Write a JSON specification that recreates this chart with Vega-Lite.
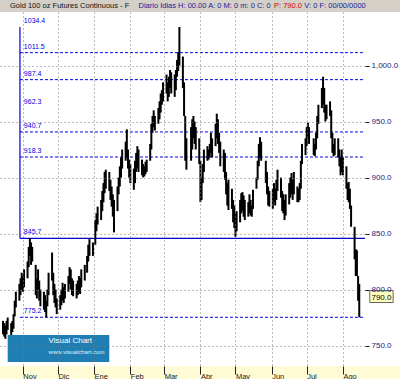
{
  "$schema": "https://vega.github.io/schema/vega-lite/v6.json",
  "width": 365,
  "height": 354,
  "autosize": {"type": "none"},
  "padding": {"left": 0, "top": 12, "right": 35, "bottom": 13},
  "background": "white",
  "config": {
    "view": {"stroke": null, "fill": "white"},
    "font": "Liberation Sans",
    "axisX": {"grid": true, "gridDash": [1, 3], "gridColor": "#777777", "gridWidth": 1, "gridOpacity": 1, "domain": false, "tickSize": 8, "tickColor": "#222222", "labelAlign": "left", "labelBaseline": "top", "labelPadding": -2, "labelDx": 2, "labelFontSize": 7.5, "labelColor": "#222222"},
    "axisY": {"grid": true, "gridDash": [1, 3], "gridColor": "#777777", "gridWidth": 1, "gridOpacity": 1, "domain": false, "tickSize": 4, "tickColor": "#222222", "labelPadding": 2, "labelFontSize": 8, "labelColor": "#1c1c7c"}
  },
  "datasets": {
    "px": [
      {"d":"2007-10-15","h":772,"l":760},{"d":"2007-10-16","h":770,"l":758},{"d":"2007-10-17","h":768,"l":756},{"d":"2007-10-18","h":772,"l":760},{"d":"2007-10-19","h":775,"l":764},
      {"d":"2007-10-22","h":770,"l":758},{"d":"2007-10-23","h":772,"l":762},{"d":"2007-10-24","h":778,"l":765},{"d":"2007-10-25","h":790,"l":776},{"d":"2007-10-26","h":798,"l":784},
      {"d":"2007-10-29","h":805,"l":790},{"d":"2007-10-30","h":810,"l":795},{"d":"2007-10-31","h":815,"l":800},{"d":"2007-11-01","h":812,"l":798},{"d":"2007-11-02","h":818,"l":802},
      {"d":"2007-11-05","h":825,"l":810},{"d":"2007-11-06","h":838,"l":820},{"d":"2007-11-07","h":845.7,"l":830},{"d":"2007-11-08","h":842,"l":822},{"d":"2007-11-09","h":838,"l":825},
      {"d":"2007-11-12","h":822,"l":795},{"d":"2007-11-13","h":810,"l":792},{"d":"2007-11-14","h":818,"l":800},{"d":"2007-11-15","h":808,"l":790},{"d":"2007-11-16","h":800,"l":785},
      {"d":"2007-11-19","h":798,"l":782},{"d":"2007-11-20","h":795,"l":780},{"d":"2007-11-21","h":790,"l":775.2},{"d":"2007-11-22","h":800,"l":785},{"d":"2007-11-23","h":815,"l":795},
      {"d":"2007-11-26","h":833,"l":808},{"d":"2007-11-27","h":815,"l":795},{"d":"2007-11-28","h":805,"l":788},{"d":"2007-11-29","h":800,"l":784},{"d":"2007-11-30","h":792,"l":778},
      {"d":"2007-12-03","h":795,"l":782},{"d":"2007-12-04","h":800,"l":786},{"d":"2007-12-05","h":806,"l":790},{"d":"2007-12-06","h":802,"l":788},{"d":"2007-12-07","h":805,"l":792},
      {"d":"2007-12-10","h":812,"l":798},{"d":"2007-12-11","h":820,"l":805},{"d":"2007-12-12","h":818,"l":800},{"d":"2007-12-13","h":810,"l":795},{"d":"2007-12-14","h":808,"l":794},
      {"d":"2007-12-17","h":805,"l":792},{"d":"2007-12-18","h":808,"l":795},{"d":"2007-12-19","h":812,"l":798},{"d":"2007-12-20","h":810,"l":796},{"d":"2007-12-21","h":818,"l":802},
      {"d":"2007-12-24","h":822,"l":808},{"d":"2007-12-26","h":830,"l":815},{"d":"2007-12-27","h":840,"l":825},{"d":"2007-12-28","h":845,"l":830},{"d":"2007-12-31","h":842,"l":830},
      {"d":"2008-01-02","h":862,"l":840},{"d":"2008-01-03","h":868,"l":852},{"d":"2008-01-04","h":874,"l":858},
      {"d":"2008-01-07","h":880,"l":862},{"d":"2008-01-08","h":888,"l":870},{"d":"2008-01-09","h":895,"l":878},{"d":"2008-01-10","h":905,"l":886},{"d":"2008-01-11","h":907,"l":890},
      {"d":"2008-01-14","h":905,"l":888},{"d":"2008-01-15","h":898,"l":880},{"d":"2008-01-16","h":892,"l":874},{"d":"2008-01-17","h":885,"l":865},{"d":"2008-01-18","h":880,"l":851},
      {"d":"2008-01-21","h":892,"l":870},{"d":"2008-01-22","h":900,"l":885},{"d":"2008-01-23","h":910,"l":892},{"d":"2008-01-24","h":918,"l":900},{"d":"2008-01-25","h":925,"l":908},
      {"d":"2008-01-28","h":932,"l":915},{"d":"2008-01-29","h":943,"l":918},{"d":"2008-01-30","h":925,"l":908},{"d":"2008-01-31","h":916,"l":900},{"d":"2008-02-01","h":912,"l":895},
      {"d":"2008-02-04","h":908,"l":889},{"d":"2008-02-05","h":915,"l":895},{"d":"2008-02-06","h":922,"l":905},{"d":"2008-02-07","h":928,"l":908},{"d":"2008-02-08","h":925,"l":905},
      {"d":"2008-02-11","h":916,"l":902},{"d":"2008-02-12","h":912,"l":900},{"d":"2008-02-13","h":910,"l":901},{"d":"2008-02-14","h":914,"l":903},{"d":"2008-02-15","h":916,"l":905},
      {"d":"2008-02-18","h":930,"l":915},{"d":"2008-02-19","h":948,"l":925},{"d":"2008-02-20","h":955,"l":940},{"d":"2008-02-21","h":960,"l":945},{"d":"2008-02-22","h":955,"l":942},
      {"d":"2008-02-25","h":962,"l":948},{"d":"2008-02-26","h":968,"l":952},{"d":"2008-02-27","h":975,"l":958},{"d":"2008-02-28","h":978,"l":965},{"d":"2008-02-29","h":985,"l":968},
      {"d":"2008-03-03","h":992,"l":975},{"d":"2008-03-04","h":985,"l":968},{"d":"2008-03-05","h":990,"l":972},{"d":"2008-03-06","h":996,"l":980},{"d":"2008-03-07","h":994,"l":975},
      {"d":"2008-03-10","h":992,"l":972},{"d":"2008-03-11","h":996,"l":978},{"d":"2008-03-12","h":1005,"l":990},{"d":"2008-03-13","h":1012,"l":995},{"d":"2008-03-14","h":1034.4,"l":1000},
      {"d":"2008-03-17","h":1008,"l":980},{"d":"2008-03-18","h":985,"l":955},{"d":"2008-03-19","h":955,"l":915},{"d":"2008-03-20","h":935,"l":907},
      {"d":"2008-03-24","h":945,"l":915},{"d":"2008-03-25","h":952,"l":925},{"d":"2008-03-26","h":955,"l":935},{"d":"2008-03-27","h":950,"l":930},{"d":"2008-03-28","h":945,"l":925},
      {"d":"2008-03-31","h":935,"l":912},{"d":"2008-04-01","h":915,"l":878},{"d":"2008-04-02","h":900,"l":880},{"d":"2008-04-03","h":912,"l":895},{"d":"2008-04-04","h":925,"l":905},
      {"d":"2008-04-07","h":928,"l":915},{"d":"2008-04-08","h":925,"l":916},{"d":"2008-04-09","h":930,"l":918},{"d":"2008-04-10","h":940,"l":922},{"d":"2008-04-11","h":935,"l":918},
      {"d":"2008-04-14","h":948,"l":928},{"d":"2008-04-15","h":957,"l":935},{"d":"2008-04-16","h":952,"l":930},{"d":"2008-04-17","h":940,"l":922},{"d":"2008-04-18","h":932,"l":910},
      {"d":"2008-04-21","h":925,"l":905},{"d":"2008-04-22","h":922,"l":898},{"d":"2008-04-23","h":905,"l":885},{"d":"2008-04-24","h":895,"l":875},{"d":"2008-04-25","h":898,"l":871},
      {"d":"2008-04-28","h":890,"l":872},{"d":"2008-04-29","h":880,"l":860},{"d":"2008-04-30","h":875,"l":855},{"d":"2008-05-01","h":868,"l":847},{"d":"2008-05-02","h":870,"l":852},
      {"d":"2008-05-05","h":880,"l":860},{"d":"2008-05-06","h":886,"l":868},{"d":"2008-05-07","h":887,"l":870},{"d":"2008-05-08","h":884,"l":865},{"d":"2008-05-09","h":880,"l":862},
      {"d":"2008-05-12","h":878,"l":865},{"d":"2008-05-13","h":885,"l":868},{"d":"2008-05-14","h":880,"l":866},{"d":"2008-05-15","h":875,"l":865},{"d":"2008-05-16","h":889,"l":872},
      {"d":"2008-05-19","h":900,"l":890},{"d":"2008-05-20","h":915,"l":898},{"d":"2008-05-21","h":930,"l":910},{"d":"2008-05-22","h":936,"l":918},{"d":"2008-05-23","h":932,"l":915},
      {"d":"2008-05-27","h":915,"l":895},{"d":"2008-05-28","h":905,"l":885},{"d":"2008-05-29","h":892,"l":875},{"d":"2008-05-30","h":888,"l":874},
      {"d":"2008-06-02","h":890,"l":872},{"d":"2008-06-03","h":895,"l":878},{"d":"2008-06-04","h":890,"l":875},{"d":"2008-06-05","h":898,"l":880},{"d":"2008-06-06","h":907,"l":888},
      {"d":"2008-06-09","h":900,"l":882},{"d":"2008-06-10","h":888,"l":870},{"d":"2008-06-11","h":885,"l":868},{"d":"2008-06-12","h":880,"l":862},{"d":"2008-06-13","h":885,"l":866},
      {"d":"2008-06-16","h":895,"l":876},{"d":"2008-06-17","h":900,"l":882},{"d":"2008-06-18","h":904,"l":885},{"d":"2008-06-19","h":898,"l":880},{"d":"2008-06-20","h":905,"l":885},
      {"d":"2008-06-23","h":892,"l":878},{"d":"2008-06-24","h":890,"l":878},{"d":"2008-06-25","h":895,"l":880},{"d":"2008-06-26","h":915,"l":890},{"d":"2008-06-27","h":930,"l":912},
      {"d":"2008-06-30","h":935,"l":920},{"d":"2008-07-01","h":945,"l":928},{"d":"2008-07-02","h":949,"l":935},{"d":"2008-07-03","h":945,"l":930},
      {"d":"2008-07-07","h":935,"l":920},{"d":"2008-07-08","h":930,"l":919},{"d":"2008-07-09","h":940,"l":925},{"d":"2008-07-10","h":955,"l":935},{"d":"2008-07-11","h":965,"l":948},
      {"d":"2008-07-14","h":980,"l":962},{"d":"2008-07-15","h":990,"l":965},{"d":"2008-07-16","h":980,"l":958},{"d":"2008-07-17","h":965,"l":950},{"d":"2008-07-18","h":965,"l":952},
      {"d":"2008-07-21","h":968,"l":955},{"d":"2008-07-22","h":960,"l":935},{"d":"2008-07-23","h":940,"l":922},{"d":"2008-07-24","h":930,"l":919},{"d":"2008-07-25","h":935,"l":920},
      {"d":"2008-07-28","h":935,"l":918},{"d":"2008-07-29","h":925,"l":910},{"d":"2008-07-30","h":918,"l":902},{"d":"2008-07-31","h":925,"l":905},{"d":"2008-08-01","h":918,"l":902},
      {"d":"2008-08-04","h":910,"l":890},{"d":"2008-08-05","h":895,"l":880},{"d":"2008-08-06","h":896,"l":878},{"d":"2008-08-07","h":890,"l":872},{"d":"2008-08-08","h":875,"l":856},
      {"d":"2008-08-11","h":856,"l":827},{"d":"2008-08-12","h":836,"l":812},{"d":"2008-08-13","h":835,"l":812},{"d":"2008-08-14","h":812,"l":790},{"d":"2008-08-15","h":805,"l":775.2}
    ],
    "fib": [
      {"level":1034.4,"label":"1034.4"},{"level":1011.5,"label":"1011.5"},{"level":987.4,"label":"987.4"},{"level":962.3,"label":"962.3"},
      {"level":940.7,"label":"940.7"},{"level":918.3,"label":"918.3"},{"level":845.7,"label":"845.7"},{"level":775.2,"label":"775.2"}
    ],
    "last": [{"price":790,"label":"790.0"}],
    "logo": [{"name":"Visual Chart","site":"www.visualchart.com"}],
    "hdr": [{"name":"Gold 100 oz Futures Continuous - F","mid":"Diario  Idias  H: 00.00  A: 0  M: 0  m: 0  C: 0","p":"P: 790.0","rest":"V: 0  F: 00/00/0000"}]
  },
  "layer": [
    {
      "data": {"values": [{}]},
      "mark": {"type": "rect", "color": "#d4d0c8", "clip": false},
      "encoding": {
        "x": {"datum": {"year":2007,"month":9,"date":20,"utc":true}, "type": "temporal"},
        "x2": {"datum": {"year":2008,"month":10,"date":1,"utc":true}},
        "y": {"datum": 1047.8, "type": "quantitative"},
        "y2": {"datum": 1062}
      }
    },
    {
      "data": {"values": [{}]},
      "mark": {"type": "rect", "color": "#fffbd4", "clip": false},
      "encoding": {
        "x": {"datum": {"year":2007,"month":9,"date":20,"utc":true}, "type": "temporal"},
        "x2": {"datum": {"year":2008,"month":10,"date":1,"utc":true}},
        "y": {"datum": 731.7, "type": "quantitative"},
        "y2": {"datum": 716}
      }
    },
    {
      "data": {"name": "hdr"},
      "mark": {"type": "text", "color": "#111111", "fontSize": 7.5, "align": "left", "baseline": "middle", "clip": false},
      "encoding": {
        "x": {"datum": {"year":2007,"month":10,"date":21,"utc":true}, "type": "temporal"},
        "y": {"datum": 1053.2, "type": "quantitative"},
        "text": {"field": "name"}
      }
    },
    {
      "data": {"name": "hdr"},
      "mark": {"type": "text", "color": "#1a1a9a", "fontSize": 7.5, "align": "left", "baseline": "middle", "clip": false},
      "encoding": {
        "x": {"datum": {"year":2008,"month":2,"date":8,"utc":true}, "type": "temporal"},
        "y": {"datum": 1053.2, "type": "quantitative"},
        "text": {"field": "mid"}
      }
    },
    {
      "data": {"name": "hdr"},
      "mark": {"type": "text", "color": "#d40000", "fontSize": 7.5, "align": "left", "baseline": "middle", "clip": false},
      "encoding": {
        "x": {"datum": {"year":2008,"month":6,"date":3,"utc":true}, "type": "temporal"},
        "y": {"datum": 1053.2, "type": "quantitative"},
        "text": {"field": "p"}
      }
    },
    {
      "data": {"name": "hdr"},
      "mark": {"type": "text", "color": "#1a1a9a", "fontSize": 7.5, "align": "left", "baseline": "middle", "clip": false},
      "encoding": {
        "x": {"datum": {"year":2008,"month":6,"date":29,"utc":true}, "type": "temporal"},
        "y": {"datum": 1053.2, "type": "quantitative"},
        "text": {"field": "rest"}
      }
    },
    {
      "data": {"name": "fib"},
      "transform": [{"filter": "indexof([1011.5, 987.4, 940.7, 918.3, 775.2], datum.level) >= 0"}],
      "mark": {"type": "rule", "color": "#0000e6", "strokeDash": [3, 2], "strokeWidth": 1},
      "encoding": {
        "y": {"field": "level", "type": "quantitative"},
        "x": {"datum": {"year":2007,"month":10,"date":29,"hours":12,"utc":true}, "type": "temporal"},
        "x2": {"datum": {"year":2008,"month":8,"date":19,"hours":22,"utc":true}}
      }
    },
    {
      "data": {"name": "fib"},
      "transform": [{"filter": "datum.level == 845.7"}],
      "mark": {"type": "rule", "color": "#0000cc", "strokeWidth": 1.2},
      "encoding": {
        "y": {"field": "level", "type": "quantitative"},
        "x": {"datum": {"year":2007,"month":10,"date":29,"hours":12,"utc":true}, "type": "temporal"},
        "x2": {"datum": {"year":2008,"month":8,"date":19,"hours":22,"utc":true}}
      }
    },
    {
      "data": {"values": [{}]},
      "mark": {"type": "rule", "color": "#0000cc", "strokeWidth": 1.2},
      "encoding": {
        "x": {"datum": {"year":2007,"month":10,"date":29,"hours":12,"utc":true}, "type": "temporal"},
        "y": {"datum": 845.7, "type": "quantitative"},
        "y2": {"datum": 1034.4}
      }
    },
    {
      "data": {"name": "px"},
      "mark": {"type": "rule", "color": "#000000", "strokeWidth": 2},
      "encoding": {
        "x": {
          "field": "d", "type": "temporal",
          "scale": {"type": "utc", "domain": [{"year":2007,"month":10,"date":12,"hours":10,"utc":true}, {"year":2008,"month":8,"date":19,"hours":22,"utc":true}]},
          "axis": {
            "title": null,
            "zindex": 2,
            "values": [
              {"year":2007,"month":11,"date":1,"utc":true},{"year":2007,"month":12,"date":1,"utc":true},{"year":2008,"month":1,"date":1,"utc":true},
              {"year":2008,"month":2,"date":1,"utc":true},{"year":2008,"month":3,"date":1,"utc":true},{"year":2008,"month":4,"date":1,"utc":true},
              {"year":2008,"month":5,"date":1,"utc":true},{"year":2008,"month":6,"date":1,"utc":true},{"year":2008,"month":7,"date":1,"utc":true},
              {"year":2008,"month":8,"date":1,"utc":true}
            ],
            "labelExpr": "['Ene','Feb','Mar','Abr','May','Jun','Jul','Ago','Sep','Oct','Nov','Dic'][utcmonth(datum.value)]"
          }
        },
        "y": {
          "field": "h", "type": "quantitative",
          "scale": {"domain": [731.7, 1047.8], "nice": false, "zero": false},
          "axis": {"title": null, "zindex": 2, "orient": "right", "values": [750, 800, 850, 900, 950, 1000], "format": ",.1f"}
        },
        "y2": {"field": "l"}
      }
    },
    {
      "data": {"name": "fib"},
      "mark": {"type": "text", "color": "#0000e6", "fontSize": 7, "align": "left", "baseline": "bottom", "dy": -3},
      "encoding": {
        "y": {"field": "level", "type": "quantitative"},
        "x": {"datum": {"year":2007,"month":11,"date":1,"hours":20,"utc":true}, "type": "temporal"},
        "text": {"field": "label"}
      }
    },
    {
      "data": {"name": "logo"},
      "mark": {"type": "rect", "color": "#1f7fb4"},
      "encoding": {
        "x": {"datum": {"year":2007,"month":10,"date":19,"utc":true}, "type": "temporal"},
        "x2": {"datum": {"year":2008,"month":1,"date":14,"utc":true}},
        "y": {"datum": 735.3, "type": "quantitative"},
        "y2": {"datum": 759.4}
      }
    },
    {
      "data": {"name": "logo"},
      "mark": {"type": "text", "color": "#ffffff", "fontSize": 8, "align": "left", "baseline": "middle"},
      "encoding": {
        "x": {"datum": {"year":2007,"month":11,"date":23,"utc":true}, "type": "temporal"},
        "y": {"datum": 753.8, "type": "quantitative"},
        "text": {"field": "name"}
      }
    },
    {
      "data": {"name": "logo"},
      "mark": {"type": "text", "color": "#dff0ff", "fontSize": 6, "align": "left", "baseline": "middle"},
      "encoding": {
        "x": {"datum": {"year":2007,"month":11,"date":23,"utc":true}, "type": "temporal"},
        "y": {"datum": 744.6, "type": "quantitative"},
        "text": {"field": "site"}
      }
    },
    {
      "data": {"name": "last"},
      "mark": {"type": "rect", "color": "#ffffc0", "stroke": "#000000", "strokeWidth": 0.6, "clip": false},
      "encoding": {
        "x": {"datum": {"year":2008,"month":8,"date":24,"utc":true}, "type": "temporal"},
        "x2": {"datum": {"year":2008,"month":9,"date":13,"utc":true}},
        "y": {"datum": 788.4, "type": "quantitative"},
        "y2": {"datum": 799.1}
      }
    },
    {
      "data": {"name": "last"},
      "mark": {"type": "text", "color": "#000000", "fontSize": 8, "align": "center", "baseline": "middle", "dy": -3, "clip": false},
      "encoding": {
        "x": {"datum": {"year":2008,"month":9,"date":3,"utc":true}, "type": "temporal"},
        "y": {"field": "price", "type": "quantitative"},
        "text": {"field": "label"}
      }
    }
  ]
}
